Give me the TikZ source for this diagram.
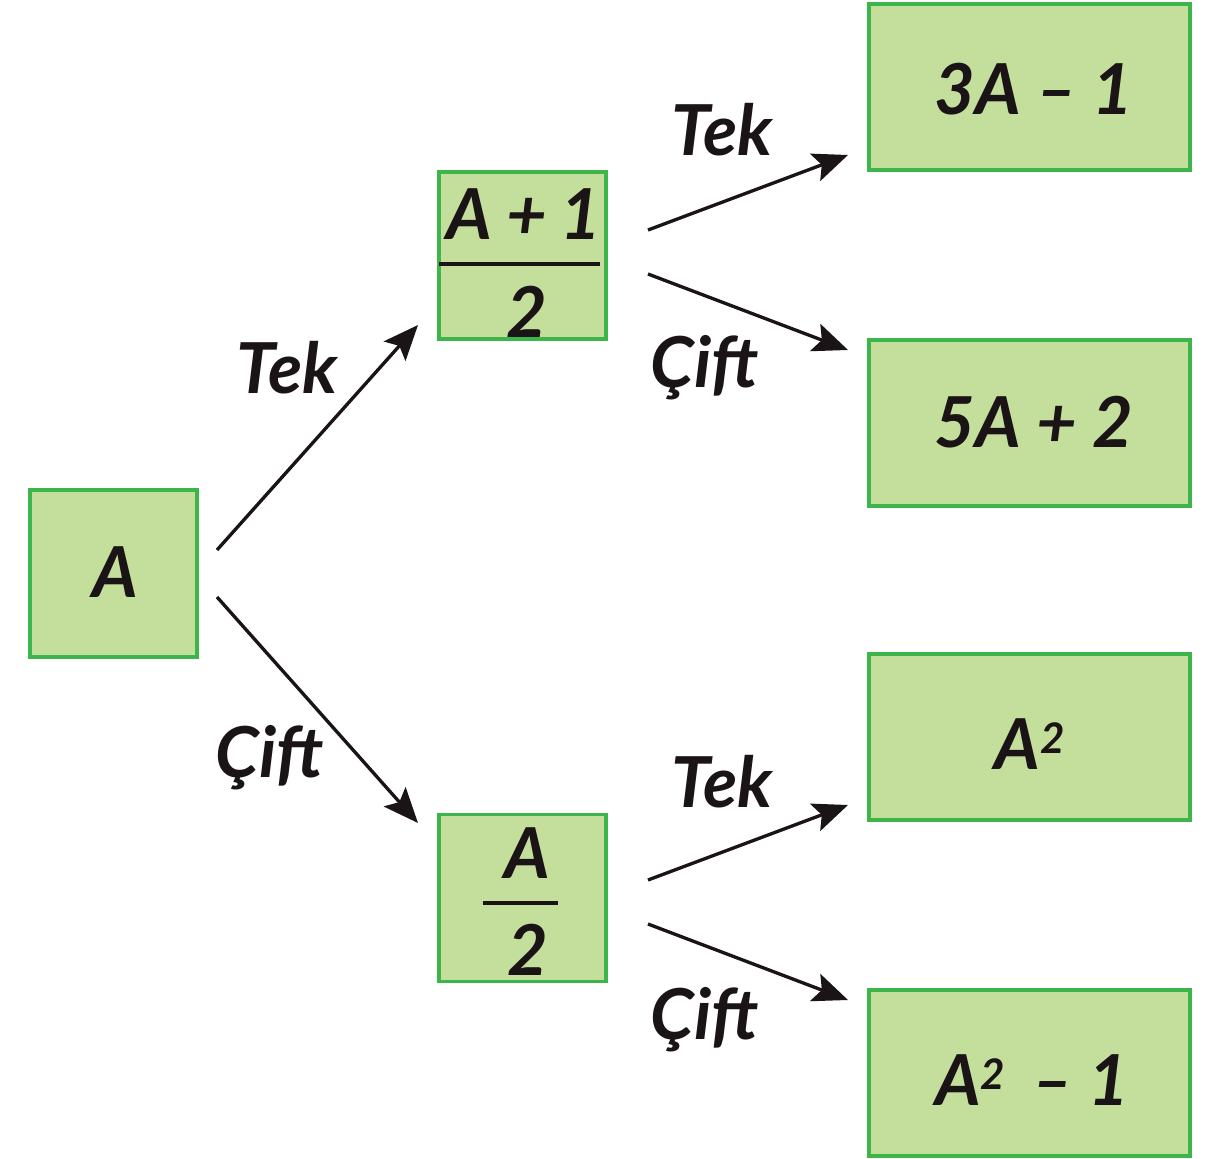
\documentclass[tikz,border=0pt]{standalone}
\usepackage{fontspec}
\setmainfont{Lato}
\usetikzlibrary{arrows.meta,calc}
\definecolor{boxfill}{HTML}{C4DF9B}
\definecolor{boxline}{HTML}{3DB54A}
\definecolor{ink}{HTML}{1A1416}
\tikzset{
  greenbox/.style={draw=boxline, fill=boxfill, line width=1.8pt, inner sep=0pt},
  sqbox/.style={greenbox, minimum width=3.34cm, minimum height=3.34cm},
  widebox/.style={greenbox, minimum width=6.42cm, minimum height=3.32cm},
  hand/.style={font=\fontsize{40}{48}\selectfont\itshape\bfseries, text=ink, inner sep=0pt},
  conn/.style={draw=ink, line width=1.9pt, -{Stealth[length=0.7cm, width=0.58cm, inset=0.14cm]}},
  fracbar/.style={draw=ink, line width=2.4pt}
}
\begin{document}
\begin{tikzpicture}[x=0.02cm, y=-0.02cm]
\useasboundingbox (0,0) rectangle (1218,1159);
% boxes
\node[sqbox] (A) at (113.5,573.5) {};
\node[hand] (Atxt) at (115,572) {A};
\node[sqbox] (B) at (522.5,255.5) {};
\node[hand] (Bnum) at (524,214) {A\hspace{0.2em}+\hspace{0.2em}1};
\node[hand] (Bden) at (527,312) {2};
\draw[fracbar] (439,264) -- (600,264);
\node[sqbox] (C) at (522.5,898) {};
\node[hand] (Cnum) at (527,853) {A};
\node[hand] (Cden) at (528,950) {2};
\draw[fracbar] (483,903) -- (558,903);
\node[widebox] (D) at (1029.5,87) {};
\node[hand] (Dtxt) at (1034,89) {3A – 1};
\node[widebox] (E) at (1029.5,423) {};
\node[hand] (Etxt) at (1034,422) {5A + 2};
\node[widebox] (F) at (1029.5,737) {};
\node[hand] (Ftxt) at (1030,744) {A\textsuperscript{\fontsize{24}{28}\selectfont 2}};
\node[widebox] (G) at (1029.5,1073) {};
\node[hand] (Gtxt) at (1032,1080) {A\textsuperscript{\fontsize{24}{28}\selectfont 2}\hspace{0.15em} – 1};
% connector end points
\coordinate (s1) at (217,550);
\coordinate (e1) at (418,325);
\coordinate (s2) at (217,597);
\coordinate (e2) at (418,823);
\coordinate (s3) at (648,230);
\coordinate (e3) at (848,155);
\coordinate (s4) at (648,274);
\coordinate (e4) at (848,350);
\coordinate (s5) at (648,880);
\coordinate (e5) at (848,805);
\coordinate (s6) at (648,924);
\coordinate (e6) at (848,1000);
\draw[conn] (s1) -- (e1);
\draw[conn] (s2) -- (e2);
\draw[conn] (s3) -- (e3);
\draw[conn] (s4) -- (e4);
\draw[conn] (s5) -- (e5);
\draw[conn] (s6) -- (e6);
% labels
\node[hand] (l1) at (287,368) {Tek};
\node[hand] (l2) at (270,758) {Çift};
\node[hand] (l3) at (722,130) {Tek};
\node[hand] (l4) at (705,368) {Çift};
\node[hand] (l5) at (722,782) {Tek};
\node[hand] (l6) at (705,1020) {Çift};
\end{tikzpicture}
\end{document}
